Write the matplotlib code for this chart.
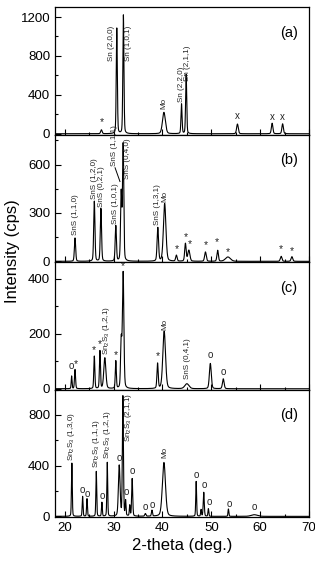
import numpy as np
import matplotlib
matplotlib.use('Agg')
import matplotlib.pyplot as plt
from matplotlib.ticker import MultipleLocator

plt.rcParams['font.family'] = ['Liberation Sans', 'DejaVu Sans']
plt.rcParams['mathtext.fontset'] = 'custom'
plt.rcParams['mathtext.rm'] = 'Liberation Sans'
plt.rcParams['mathtext.it'] = 'Liberation Sans:italic'
plt.rcParams['mathtext.bf'] = 'Liberation Sans:bold'

# ---------------- data: peak lists (2-theta, intensity, FWHM) ----------------
a_pos = [27.5, 30.65, 32.0, 40.3, 43.9, 44.85, 55.35, 62.45, 64.6]
a_hgt = [40, 1085, 1220, 220, 305, 610, 100, 108, 102]
a_fwhm = [0.35, 0.26, 0.26, 0.7, 0.26, 0.26, 0.4, 0.36, 0.36]

b_pos = [22.1, 26.05, 27.4, 30.45, 31.55, 31.95, 39.05, 40.45, 42.85, 44.7, 45.4,
         48.8, 51.3, 53.4, 64.3, 66.5]
b_hgt = [145, 372, 327, 219, 420, 720, 207, 358, 37, 110, 68, 58, 68, 27, 31, 29]
b_fwhm = [0.3, 0.3, 0.3, 0.3, 0.3, 0.3, 0.35, 0.6, 0.35, 0.35, 0.5, 0.4, 0.35,
          1.2, 0.4, 0.4]

c_pos = [21.4, 22.1, 26.05, 27.2, 28.2, 30.45, 31.55, 31.95, 39.0, 40.35, 45.0,
         49.8, 52.45]
c_hgt = [46, 70, 118, 137, 112, 100, 170, 420, 91, 209, 18, 92, 36]
c_fwhm = [0.2, 0.25, 0.25, 0.25, 0.5, 0.25, 0.3, 0.35, 0.3, 0.65, 1.0, 0.45, 0.4]

d_pos = [21.45, 23.65, 24.55, 26.45, 27.6, 28.7, 31.15, 31.9, 32.45, 33.3, 33.8,
         36.5, 37.85, 40.3, 46.9, 47.9, 48.45, 49.4, 53.5, 58.8]
d_hgt = [420, 157, 139, 354, 110, 425, 399, 944, 118, 84, 296, 21, 47, 425, 275,
         52, 189, 60, 58, 13]
d_fwhm = [0.2, 0.2, 0.2, 0.2, 0.2, 0.2, 0.4, 0.25, 0.2, 0.2, 0.25, 0.3,
          0.25, 0.75, 0.2, 0.2, 0.25, 0.2, 0.2, 1.5]

# ---------------- labels (text, 2-theta, intensity) ----------------
S23 = r'Sn$_2$S$_3$'
a_lab = [('*', 27.5, 119), ('Sn (2,0,0)', 29.65, 745), ('Sn (1,0,1)', 33.1, 745),
         ('Mo', 40.3, 254), ('Sn (2,2,0)', 43.8, 322), ('Sn (2,1,1)', 45.2, 542),
         ('x', 55.4, 186), ('x', 62.4, 170), ('x', 64.6, 170)]
b_lab = [('SnS (1,1,0)', 22.11, 161), ('SnS (1,2,0)', 26.06, 389),
         ('SnS (0,2,1)', 27.49, 337), ('SnS (1,0,1)', 30.42, 234),
         ('SnS (1,1,1)', 30.2, 590), ('SnS (0,4,0)', 32.93, 513),
         ('SnS (1,3,1)', 39.0, 223), ('Mo', 40.5, 368),
         ('*', 42.86, 74), ('*', 44.69, 151), ('*', 45.51, 110), ('*', 48.84, 103),
         ('*', 51.09, 120), ('*', 53.4, 58), ('*', 64.29, 79), ('*', 66.46, 62)]
c_lab = [('o', 21.29, 82), ('*', 22.24, 88), ('*', 25.99, 140), ('*', 27.1, 161),
         (S23 + ' (1,2,1)', 28.45, 124), ('*', 30.41, 121), ('*', 31.84, 445),
         ('*', 38.98, 118), ('Mo', 40.5, 215), ('SnS (0,4,1)', 45.1, 34),
         ('o', 49.8, 121), ('o', 52.45, 62)]
d_lab = [(S23 + ' (1,3,0)', 21.36, 439), ('o', 23.67, 210), ('o', 24.63, 176),
         (S23 + ' (1,1,1)', 26.46, 380), ('o', 27.69, 163),
         (S23 + ' (1,2,1)', 28.71, 454), ('o', 31.09, 464),
         (S23 + ' (2,1,1)', 32.99, 590), ('o', 32.59, 191), ('o', 33.81, 357),
         ('o', 36.53, 71), ('o', 37.96, 92), ('Mo', 40.41, 459),
         ('o', 47.01, 323), ('o', 48.5, 249), ('o', 49.59, 110), ('o', 53.67, 97),
         ('o', 58.78, 71)]

panel_tags = ['(a)', '(b)', '(c)', '(d)']
ylims = [(-10, 1300), (-5, 785), (-3, 460), (-5, 1000)]
ymajor = [400, 300, 200, 400]

peaks = [(a_pos, a_hgt, a_fwhm), (b_pos, b_hgt, b_fwhm),
         (c_pos, c_hgt, c_fwhm), (d_pos, d_hgt, d_fwhm)]
labels = [a_lab, b_lab, c_lab, d_lab]

tt = np.linspace(18, 70, 5201)


def profile(pos, hgt, fwhm, eta=0.25):
    y = np.zeros_like(tt)
    for p, h, w in zip(pos, hgt, fwhm):
        g = np.exp(-4 * np.log(2) * ((tt - p) / w) ** 2)
        l = 1.0 / (1 + 4 * ((tt - p) / w) ** 2)
        y += h * ((1 - eta) * g + eta * l)
    return y


fig = plt.figure(figsize=(3.15, 5.72), dpi=100)
left, right = 55 / 315, 309 / 315
top_px, bot_px = 7.3, 517.0
ph = (bot_px - top_px) / 4

axes = []
for i in range(4):
    y0 = 1 - (top_px + (i + 1) * ph) / 572
    ax = fig.add_axes([left, y0, right - left, ph / 572])
    axes.append(ax)
    pos, hgt, fwhm = peaks[i]
    ax.plot(tt, profile(pos, hgt, fwhm), color='black', lw=0.8)
    ax.set_xlim(18, 70)
    ax.set_ylim(*ylims[i])
    ax.xaxis.set_major_locator(MultipleLocator(10))
    ax.xaxis.set_minor_locator(MultipleLocator(5))
    ax.yaxis.set_major_locator(MultipleLocator(ymajor[i]))
    ax.yaxis.set_minor_locator(MultipleLocator(ymajor[i] / 2))
    ax.tick_params(which='both', direction='in', top=False, right=False,
                   labelsize=9.5, colors='black')
    ax.tick_params(which='major', length=4, width=0.8)
    ax.tick_params(which='minor', length=2.5, width=0.8)
    for s in ax.spines.values():
        s.set_linewidth(0.9)
    if i < 3:
        ax.tick_params(labelbottom=False)
    ax.text(0.92, 0.8, panel_tags[i], transform=ax.transAxes, ha='center',
            va='center', fontsize=10.5)
    for txt, x, y in labels[i]:
        if txt == '*':
            ax.text(x, y, txt, ha='center', va='center', fontsize=7.5,
                    color='#222222')
        elif txt in ('o', 'x'):
            ax.text(x, y, txt, ha='center', va='center', fontsize=7,
                    color='#222222')
        else:
            ax.text(x, y, txt, ha='center', va='bottom', rotation=90,
                    fontsize=5.8, color='#222222')

# connector line for SnS (1,1,1)
axes[1].plot([30.3, 31.3], [580, 495], color='black', lw=0.7)

axes[3].set_xlabel('2-theta (deg.)', fontsize=12, labelpad=3)
fig.text(12 / 315, 1 - 251 / 572, 'Intensity (cps)', rotation=90, ha='center',
         va='center', fontsize=12)

fig.savefig('out.png', dpi=100)
